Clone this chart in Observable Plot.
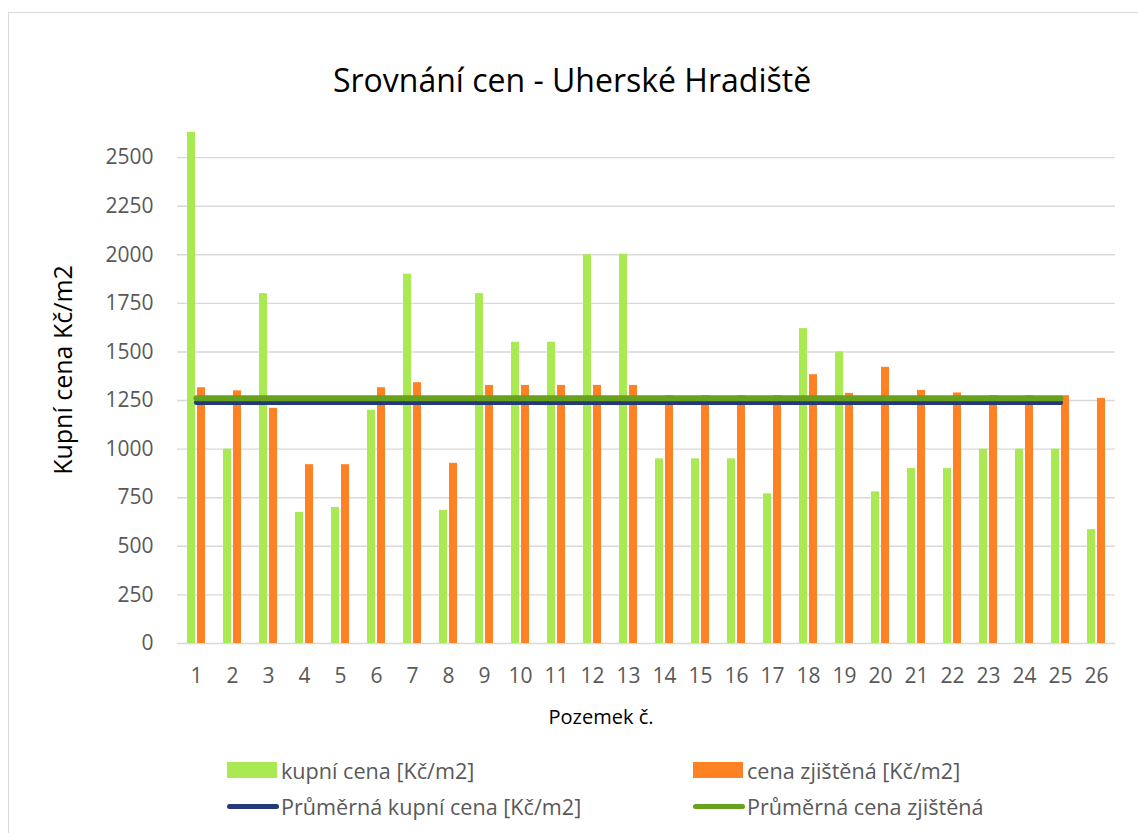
<!DOCTYPE html>
<html>
<head>
<meta charset="utf-8">
<script src="https://cdn.jsdelivr.net/npm/d3@7"></script>
<script src="https://cdn.jsdelivr.net/npm/@observablehq/plot@0.6"></script>
<style>
  body { margin: 0; background: #fff; font-family: "Open Sans", sans-serif; }
  #wrap { position: relative; width: 1138px; height: 833px; overflow: hidden; background: #fff; }
  #frame { position: absolute; left: 8px; top: 12px; width: 1300px; height: 1000px; border: 1.5px solid #d9d9d9; box-sizing: border-box; }
  #chart { position: absolute; left: 0; top: 0; }
  .title { position: absolute; left: 0; width: 1144px; top: 58px; text-align: center; font-size: 32px; line-height: 44px; color: #000; white-space: nowrap; }
  .ytitle { position: absolute; left: 62px; top: 370px; transform: translate(-50%, -50%) rotate(-90deg); font-size: 25px; color: #000; white-space: nowrap; }
  .xtitle { position: absolute; left: 0; width: 1202px; top: 702px; text-align: center; font-size: 20px; line-height: 30px; color: #000; }
  .leg { position: absolute; display: flex; align-items: center; font-size: 21.6px; color: #595959; white-space: nowrap; height: 30px; }
  .sw { width: 50px; height: 16px; margin-right: 4px; flex: none; }
  .ln { width: 52px; height: 5px; border-radius: 3px; margin-right: 2px; flex: none; }
</style>
</head>
<body>
<div id="wrap">
  <div id="frame"></div>
  <div id="chart"></div>
  <div class="title">Srovnání cen - Uherské Hradiště</div>
  <div class="ytitle">Kupní cena Kč/m2</div>
  <div class="xtitle">Pozemek č.</div>
  <div id="legend"></div>
</div>
<script>
// ---- data ----
const categories = ["1","2","3","4","5","6","7","8","9","10","11","12","13","14","15","16","17","18","19","20","21","22","23","24","25","26"];
const kupniCena = [2630,1000,1800,675,700,1200,1900,685,1800,1550,1550,2000,2003,950,950,950,770,1620,1500,780,900,900,1000,1000,1000,586];
const cenaZjistena = [1316,1300,1210,920,920,1316,1342,927,1328,1328,1328,1328,1328,1275,1275,1275,1275,1383,1287,1421,1302,1289,1275,1275,1275,1261];
const prumernaKupni = 1240;      // Průměrná kupní cena
const prumernaZjistena = 1262;   // Průměrná cena zjištěná
const prumerRange = ["1", "25"]; // categories spanned by the average lines
const yTicks = [0,250,500,750,1000,1250,1500,1750,2000,2250,2500];
const seriesNames = ["kupní cena [Kč/m2]", "cena zjištěná [Kč/m2]", "Průměrná kupní cena [Kč/m2]", "Průměrná cena zjištěná"];
const colors = {green: "#a9ea52", orange: "#fe8223", navy: "#24397a", avgGreen: "#67a11d"};

const rows = categories.map((c, i) => ({cat: c, kupni: kupniCena[i], zjist: cenaZjistena[i]}));
const avgK = prumerRange.map(c => ({cat: c, v: prumernaKupni}));
const avgZ = prumerRange.map(c => ({cat: c, v: prumernaZjistena}));

const plot = Plot.plot({
  width: 1138,
  height: 700,
  marginLeft: 177,
  marginRight: 23,
  marginTop: 126,
  marginBottom: 57,
  style: {fontFamily: "Open Sans", fontSize: "21px", background: "transparent"},
  x: {type: "band", domain: categories, padding: 0},
  y: {domain: [0, 2660]},
  marks: [
    Plot.gridY(yTicks, {stroke: "#d9d9d9", strokeOpacity: 1, strokeWidth: 1.4}),
    Plot.barY(rows, {x: "cat", y: "kupni", fill: colors.green, insetLeft: 9, insetRight: 19}),
    Plot.barY(rows, {x: "cat", y: "zjist", fill: colors.orange, insetLeft: 19, insetRight: 9}),
    Plot.lineY(avgK, {x: "cat", y: "v", stroke: colors.navy, strokeWidth: 5, strokeLinecap: "round"}),
    Plot.lineY(avgZ, {x: "cat", y: "v", stroke: colors.avgGreen, strokeWidth: 6, strokeLinecap: "round"}),
    Plot.axisX({tickSize: 0, tickPadding: 25, fontSize: 21, color: "#595959", label: null}),
    Plot.axisY(yTicks, {tickSize: 0, tickPadding: 24, fontSize: 21, color: "#595959", label: null, tickFormat: d => String(d)})
  ]
});
document.getElementById("chart").appendChild(plot);

// legend
const legend = document.getElementById("legend");
const items = [
  {name: seriesNames[0], cls: "sw", color: colors.green, left: 227, top: 755},
  {name: seriesNames[1], cls: "sw", color: colors.orange, left: 693, top: 755},
  {name: seriesNames[2], cls: "ln", color: colors.navy, left: 227, top: 791},
  {name: seriesNames[3], cls: "ln", color: colors.avgGreen, left: 693, top: 791}
];
for (const it of items) {
  const d = document.createElement("div");
  d.className = "leg";
  d.style.left = it.left + "px";
  d.style.top = it.top + "px";
  const s = document.createElement("span");
  s.className = it.cls;
  s.style.background = it.color;
  d.appendChild(s);
  const t = document.createElement("span");
  t.textContent = it.name;
  d.appendChild(t);
  legend.appendChild(d);
}
</script>
</body>
</html>
